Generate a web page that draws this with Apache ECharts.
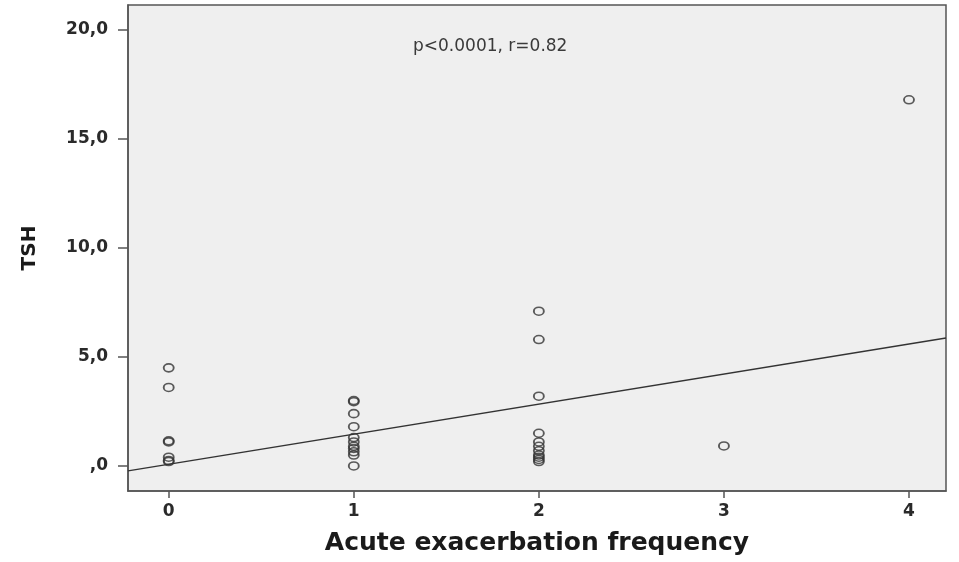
<!DOCTYPE html>
<html>
<head>
<meta charset="utf-8">
<script src="https://cdn.jsdelivr.net/npm/echarts@6/dist/echarts.min.js"></script>
<style>
  html, body { margin: 0; padding: 0; background: #fff; }
  #tshChart { width: 959px; height: 562px; }
</style>
</head>
<body>
<div id="tshChart"></div>
<script>
  // acute exacerbation frequency groups and TSH values
  var freq0 = [4.5, 3.6, 1.15, 1.1, 0.4, 0.25, 0.2];
  var freq1 = [3.0, 2.95, 2.4, 1.8, 1.3, 1.1, 0.9, 0.8, 0.65, 0.5, 0.0];
  var freq2 = [7.1, 5.8, 3.2, 1.5, 1.1, 0.9, 0.7, 0.5, 0.4, 0.3, 0.2];
  var freq3 = [0.92];
  var freq4 = [16.8];
  // fit line end points (x at the plot edges, y)
  var fitX = [-0.22, 4.2];
  var fitY = [-0.23, 5.87];
  var xTicks = [0, 1, 2, 3, 4];
  var yTicks = [0, 5, 10, 15, 20];
  var note = 'p<0.0001, r=0.82';

  var groups = [freq0, freq1, freq2, freq3, freq4];
  var points = [];
  groups.forEach(function (vals, i) {
    vals.forEach(function (v) { points.push([i, v]); });
  });

  var font = 'DejaVu Sans';
  var myEchart = echarts.init(document.getElementById('tshChart'));
  var option = {
    animation: false,
    backgroundColor: '#ffffff',
    title: {
      text: note,
      left: 408,
      top: 33,
      textStyle: { fontFamily: font, fontSize: 17, fontWeight: 'normal', color: '#3a3a3a' }
    },
    grid: {
      left: 128,
      right: 13,
      top: 5,
      bottom: 71,
      show: true,
      backgroundColor: '#efefef',
      borderColor: '#555',
      borderWidth: 1.5
    },
    xAxis: {
      type: 'value',
      min: fitX[0],
      max: fitX[1],
      name: 'Acute exacerbation frequency',
      nameLocation: 'middle',
      nameGap: 40,
      nameTextStyle: { fontFamily: font, fontSize: 25, fontWeight: 'bold', color: '#1a1a1a' },
      axisLine: { show: true, onZero: false, lineStyle: { color: '#555', width: 1.5 } },
      splitLine: { show: false },
      axisTick: {
        show: true, inside: false, length: 7, customValues: xTicks,
        lineStyle: { color: '#555', width: 1.5 }
      },
      axisLabel: {
        customValues: xTicks,
        margin: 12,
        fontFamily: font, fontSize: 17, fontWeight: 'bold', color: '#2a2a2a'
      }
    },
    yAxis: {
      type: 'value',
      min: -1.15,
      max: 21.15,
      name: 'TSH',
      nameLocation: 'middle',
      nameGap: 88,
      nameRotate: 90,
      nameTextStyle: { fontFamily: font, fontSize: 20, fontWeight: 'bold', color: '#1a1a1a' },
      axisLine: { show: true, onZero: false, lineStyle: { color: '#555', width: 1.5 } },
      splitLine: { show: false },
      axisTick: {
        show: true, inside: false, length: 10, customValues: yTicks,
        lineStyle: { color: '#555', width: 1.5 }
      },
      axisLabel: {
        customValues: yTicks,
        margin: 20,
        fontFamily: font, fontSize: 17, fontWeight: 'bold', color: '#2a2a2a',
        formatter: function (v) {
          return v === 0 ? ',0' : v.toFixed(1).replace('.', ',');
        }
      }
    },
    series: [{
      type: 'line',
      data: [[fitX[0], fitY[0]], [fitX[1], fitY[1]]],
      symbol: 'none',
      silent: true,
      lineStyle: { color: '#333', width: 1.3 }
    }, {
      type: 'scatter',
      data: points,
      symbol: 'circle',
      symbolSize: [10, 8],
      itemStyle: { color: 'rgba(0,0,0,0)', borderColor: '#333', borderWidth: 1.7 }
    }]
  };
  myEchart.setOption(option);
</script>
</body>
</html>
